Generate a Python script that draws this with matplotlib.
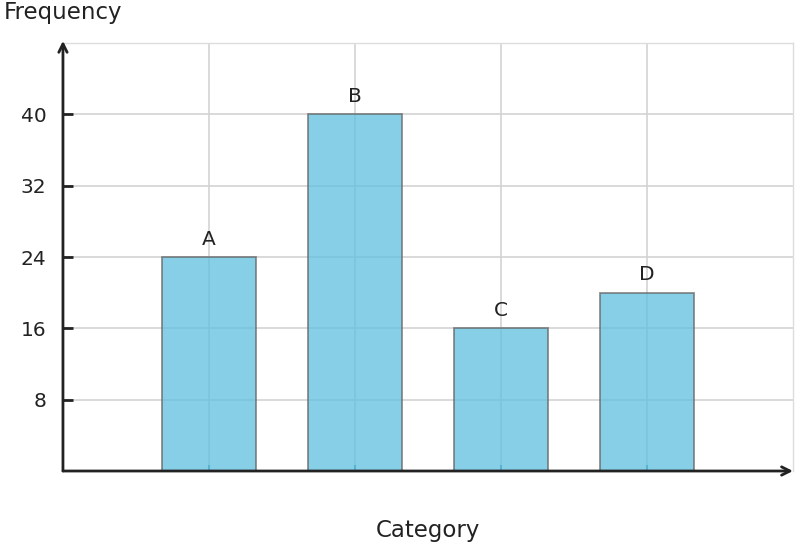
import matplotlib
matplotlib.use("Agg")
import matplotlib.pyplot as plt

# dados
categories = ['A', 'B', 'C', 'D']
frequencies = [24, 40, 16, 20]
y_ticks = [8, 16, 24, 32, 40]

fig = plt.figure(figsize=(7.96, 5.48), dpi=100)
ax = fig.add_axes([0.0791, 0.1405, 0.9171, 0.781])

positions = list(range(1, len(categories) + 1))
ax.bar(positions, frequencies, width=0.65, color='#5EC0E0', edgecolor='#666666',
       linewidth=1.3, alpha=0.75, zorder=3)

for x, v, c in zip(positions, frequencies, categories):
    ax.text(x, v + 0.95, c, ha='center', va='bottom', fontsize=14.5, color='#222222', zorder=4)

ax.set_xlim(0, 5)
ax.set_ylim(0, 48)
ax.set_xticks(positions)
ax.set_xticklabels([])
ax.set_yticks(y_ticks)
ax.tick_params(axis='y', direction='in', length=7, width=2, color='#222222',
               labelsize=14.5, labelcolor='#222222', pad=12)
ax.tick_params(axis='x', direction='in', length=4, width=1.5, color='#4a8aa5')

ax.grid(True, color='#d3d3d3', linewidth=1.2, zorder=1)
ax.set_axisbelow(True)

for s in ['top', 'right']:
    ax.spines[s].set_color('#dddddd')
    ax.spines[s].set_linewidth(1)
for s in ['left', 'bottom']:
    ax.spines[s].set_visible(False)

# eixos com setas
ax.annotate('', xy=(0, 1.005), xytext=(0, 0), xycoords='axes fraction',
            arrowprops=dict(arrowstyle='->', color='#222222', lw=2,
                            mutation_scale=15, shrinkA=0, shrinkB=0), zorder=5)
ax.annotate('', xy=(1.0, 0), xytext=(0, 0), xycoords='axes fraction',
            arrowprops=dict(arrowstyle='->', color='#222222', lw=2,
                            mutation_scale=15, shrinkA=0, shrinkB=0), zorder=5)

fig.text(4 / 796, 1 - 13 / 548, 'Frequency', ha='left', va='center', fontsize=16.5, color='#222222')
fig.text(428 / 796, 1 - 531 / 548, 'Category', ha='center', va='center', fontsize=16.5, color='#222222')

fig.savefig('out.png', dpi=100)
